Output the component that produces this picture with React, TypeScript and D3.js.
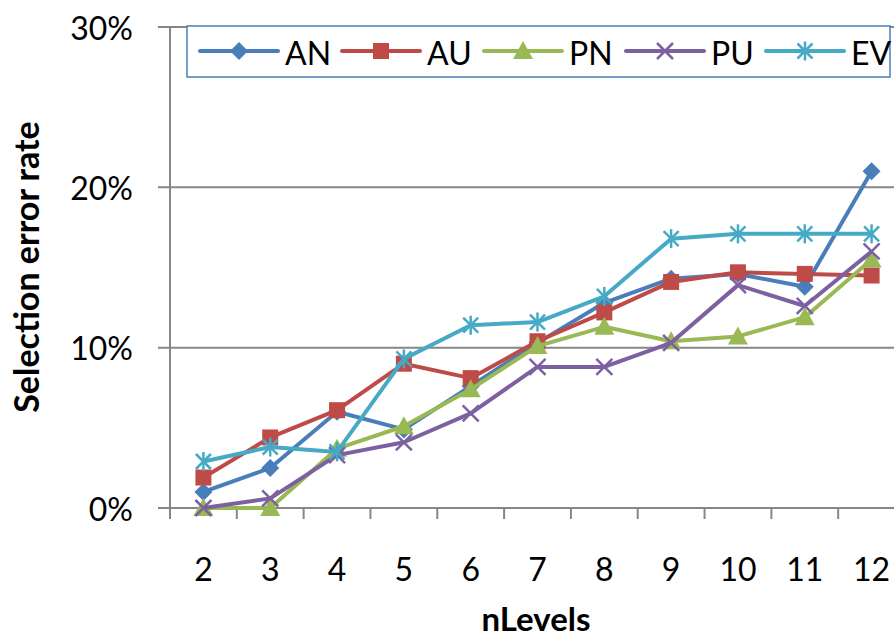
import React from "react";
import * as d3 from "d3";

const categories = ["2", "3", "4", "5", "6", "7", "8", "9", "10", "11", "12"];
const seriesNames = ["AN", "AU", "PN", "PU", "EV"];
const AN = [1.0, 2.5, 6.0, 4.9, 7.6, 10.3, 12.8, 14.3, 14.6, 13.8, 21.0];
const AU = [1.9, 4.4, 6.1, 9.0, 8.1, 10.4, 12.2, 14.1, 14.7, 14.6, 14.5];
const PN = [0.0, 0.0, 3.7, 5.1, 7.4, 10.1, 11.3, 10.4, 10.7, 11.9, 15.5];
const PU = [0.0, 0.6, 3.3, 4.1, 5.9, 8.8, 8.8, 10.3, 13.9, 12.6, 16.0];
const EV = [2.9, 3.8, 3.5, 9.3, 11.4, 11.6, 13.2, 16.8, 17.1, 17.1, 17.1];
const yTicks = [0, 10, 20, 30];

const seriesValues = [AN, AU, PN, PU, EV];
const colors = ["#4A7EBB", "#BE4B48", "#98B954", "#7D60A0", "#46AAC5"];
const markerTypes = ["diamond", "square", "triangle", "x", "star"];

const W = 894;
const H = 641;
const FONT = "Lato, 'Open Sans', sans-serif";

function Marker({ type, x, y, color }: { type: string; x: number; y: number; color: string }) {
  if (type === "diamond") {
    const r = 9;
    return <path d={`M${x},${y - r}L${x + r},${y}L${x},${y + r}L${x - r},${y}Z`} fill={color} />;
  }
  if (type === "square") {
    const s = 8;
    return <rect x={x - s} y={y - s} width={2 * s} height={2 * s} fill={color} />;
  }
  if (type === "triangle") {
    return <path d={`M${x},${y - 10}L${x + 10},${y + 8}L${x - 10},${y + 8}Z`} fill={color} />;
  }
  if (type === "x") {
    const r = 8;
    return (
      <g stroke={color} strokeWidth={2.5}>
        <line x1={x - r} y1={y - r} x2={x + r} y2={y + r} />
        <line x1={x - r} y1={y + r} x2={x + r} y2={y - r} />
      </g>
    );
  }
  const r = 7.5;
  return (
    <g stroke={color} strokeWidth={2.5}>
      <line x1={x - r} y1={y - r} x2={x + r} y2={y + r} />
      <line x1={x - r} y1={y + r} x2={x + r} y2={y - r} />
      <line x1={x} y1={y - r - 2} x2={x} y2={y + r + 2} />
    </g>
  );
}

export default function App() {
  const left = 170;
  const right = 905;
  const top = 27;
  const bottom = 508;
  const x = d3.scaleBand().domain(categories).range([left, right]);
  const y = d3.scaleLinear().domain([0, 30]).range([bottom, top]);
  const cx = (c: string) => (x(c) as number) + x.bandwidth() / 2;
  const line = d3
    .line<number>()
    .x((_, i) => cx(categories[i]))
    .y((d) => y(d));

  const legendX = [200, 342, 484, 626, 766];

  return (
    <svg
      width={W}
      height={H}
      style={{ position: "absolute", left: 0, top: 0, background: "#fff" }}
      fontFamily={FONT}
    >
      {/* gridlines */}
      {yTicks.map((t) => (
        <line key={"g" + t} x1={158} x2={W} y1={y(t)} y2={y(t)} stroke="#868686" strokeWidth={2} />
      ))}
      {/* y axis */}
      <line x1={left} x2={left} y1={top} y2={bottom + 11} stroke="#868686" strokeWidth={2} />
      {/* x ticks */}
      {categories.map((c) => (
        <line
          key={"t" + c}
          x1={x(c) as number}
          x2={x(c) as number}
          y1={bottom}
          y2={bottom + 11}
          stroke="#868686"
          strokeWidth={2}
        />
      ))}
      {/* y labels */}
      {yTicks.map((t) => (
        <text
          key={"yl" + t}
          x={133}
          y={y(t)}
          textAnchor="end"
          dominantBaseline="central"
          fontSize={32}
          fill="#000"
        >
          {t + "%"}
        </text>
      ))}
      {/* x labels */}
      {categories.map((c) => (
        <text
          key={"xl" + c}
          x={cx(c)}
          y={568}
          textAnchor="middle"
          dominantBaseline="central"
          fontSize={32}
          fill="#000"
        >
          {c}
        </text>
      ))}
      {/* axis titles */}
      <text
        transform={`translate(25,267) rotate(-90)`}
        textAnchor="middle"
        dominantBaseline="central"
        fontSize={34}
        fontWeight="bold"
        fill="#000"
      >
        Selection error rate
      </text>
      <text x={536} y={618} textAnchor="middle" dominantBaseline="central" fontSize={33} fontWeight="bold" fill="#000">
        nLevels
      </text>
      {/* series */}
      {seriesValues.map((vals, si) => (
        <g key={"s" + si}>
          <path d={line(vals) || ""} fill="none" stroke={colors[si]} strokeWidth={4} strokeLinejoin="round" />
          {vals.map((v, i) => (
            <Marker key={i} type={markerTypes[si]} x={cx(categories[i])} y={y(v)} color={colors[si]} />
          ))}
        </g>
      ))}
      {/* legend */}
      <rect x={187} y={26} width={703} height={51} fill="#fff" stroke="#4A7EBB" strokeWidth={1.5} />
      {seriesNames.map((n, si) => (
        <g key={"lg" + n}>
          <line
            x1={legendX[si]}
            x2={legendX[si] + 78}
            y1={51}
            y2={51}
            stroke={colors[si]}
            strokeWidth={4}
            strokeLinecap="round"
          />
          <Marker type={markerTypes[si]} x={legendX[si] + 39} y={51} color={colors[si]} />
          <text x={legendX[si] + 85} y={52} dominantBaseline="central" fontSize={32} fill="#000">
            {n}
          </text>
        </g>
      ))}
    </svg>
  );
}
